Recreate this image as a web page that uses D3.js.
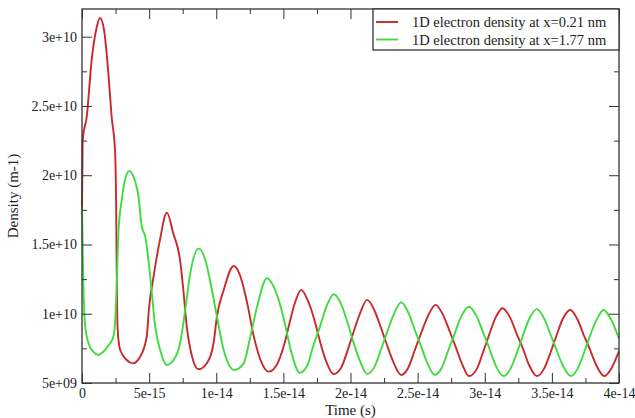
<!DOCTYPE html>
<html>
<head>
<meta charset="utf-8">
<script src="https://cdn.jsdelivr.net/npm/d3@7/dist/d3.min.js"></script>
<style>
  html, body { margin: 0; padding: 0; background: #fff; }
  svg { display: block; }
  text { font-family: "Liberation Serif", "DejaVu Serif", serif; fill: #222; }
</style>
</head>
<body>
<svg id="chart" width="635" height="418"></svg>
<script>
// Time in femtoseconds, density in units of 1e9 m^-1
const redTime = [0, 0.05, 0.35, 0.72, 1.10, 1.34, 1.64, 1.96, 2.21, 2.46, 2.54, 2.6, 2.66, 2.84, 3.33, 3.78, 4.33, 4.82, 5.0, 5.3, 5.8, 6.32, 6.8, 7.3, 7.55, 7.8, 8.2, 8.68, 9.3, 9.8, 10.05, 10.55, 11.3, 11.8, 12.3, 12.8, 13.4, 13.9,
  14.5, 15.1, 15.5, 15.9, 16.32, 16.8, 17.3, 17.7, 18.1, 18.76, 19.3, 19.8, 20.2, 20.7, 21.24, 21.8, 22.3, 22.7, 23.2, 23.78,
  24.3, 24.8, 25.3, 25.8, 26.34, 26.9, 27.4, 27.8, 28.3, 28.83, 29.4, 29.9, 30.3, 30.8, 31.32, 31.9, 32.4, 32.8, 33.3, 33.88,
  34.4, 34.9, 35.3, 35.8, 36.37, 36.9, 37.4, 37.8, 38.3, 38.9, 39.4, 40];
const redDensity = [17.7, 22.6, 24.2, 28.3, 30.7, 31.35, 30.5, 27.4, 24.2, 21.8, 18.2, 11.7, 8.8, 7.4, 6.66, 6.42, 6.9, 8.35, 10.5, 12.5, 15.3, 17.3, 15.8, 13.9, 11.7, 9.1, 6.9, 5.99, 6.42, 7.87, 9.8, 11.7, 13.45, 12.7, 10.8, 8.35, 6.42, 5.82,
  6.3, 7.9, 9.5, 10.9, 11.72, 11.0, 9.6, 8.1, 6.8, 5.65, 6.1, 7.4, 8.6, 10.0, 11.0, 10.2, 8.9, 7.8, 6.5, 5.58,
  6.1, 7.4, 8.7, 9.9, 10.64, 9.9, 8.7, 7.7, 6.4, 5.5, 6.0, 7.3, 8.4, 9.7, 10.4, 9.7, 8.5, 7.6, 6.3, 5.5,
  6.0, 7.2, 8.3, 9.6, 10.27, 9.6, 8.4, 7.5, 6.3, 5.5, 6.0, 7.3];

const greenTime = [0, 0.1, 0.22, 0.47, 0.84, 1.22, 1.59, 2.09, 2.34, 2.46, 2.59, 2.71, 2.96, 3.21, 3.53, 3.83, 4.2, 4.45, 4.7, 4.95, 5.2, 5.45, 5.82, 6.32, 6.82, 7.31, 7.69, 8.06, 8.68, 9.18, 9.68, 10.05, 10.55, 11.34, 12.04, 12.54, 13.04, 13.78,
  14.3, 14.8, 15.2, 15.6, 16.22, 16.8, 17.2, 17.7, 18.2, 18.76, 19.3, 19.8, 20.2, 20.7, 21.24, 21.8, 22.3, 22.7, 23.2, 23.78,
  24.3, 24.8, 25.2, 25.7, 26.27, 26.8, 27.3, 27.7, 28.2, 28.83, 29.4, 29.9, 30.3, 30.8, 31.39, 31.9, 32.4, 32.8, 33.3, 33.88,
  34.4, 34.9, 35.3, 35.8, 36.42, 36.9, 37.4, 37.8, 38.3, 38.86, 39.4, 40];
const greenDensity = [17.7, 12.2, 9.3, 7.9, 7.26, 7.02, 7.26, 7.87, 8.35, 9.3, 12.2, 15.8, 18.2, 19.7, 20.3, 19.9, 18.5, 16.3, 15.6, 13.9, 11.5, 9.1, 7.4, 6.3, 6.66, 7.87, 10.3, 12.9, 14.7, 13.9, 11.7, 9.8, 7.4, 5.94, 6.42, 8.35, 10.5, 12.56,
  11.9, 10.5, 8.9, 7.2, 5.74, 6.3, 7.6, 9.0, 10.5, 11.41, 10.7, 9.3, 8.0, 6.6, 5.65, 6.2, 7.5, 8.6, 9.9, 10.83,
  10.1, 8.8, 7.8, 6.5, 5.58, 6.1, 7.4, 8.4, 9.7, 10.51, 9.8, 8.6, 7.6, 6.3, 5.5, 6.0, 7.2, 8.3, 9.6, 10.33,
  9.7, 8.5, 7.5, 6.3, 5.5, 6.0, 7.2, 8.3, 9.5, 10.27, 9.6, 8.2];

const seriesNames = ["1D electron density at x=0.21 nm", "1D electron density at x=1.77 nm"];
const seriesColors = ["#c9282d", "#3fdc3f"];

const xTickValues = [0, 5e-15, 1e-14, 1.5e-14, 2e-14, 2.5e-14, 3e-14, 3.5e-14, 4e-14];
const xTickLabels = ["0", "5e-15", "1e-14", "1.5e-14", "2e-14", "2.5e-14", "3e-14", "3.5e-14", "4e-14"];
const xMinorValues = [2.5e-15, 7.5e-15, 1.25e-14, 1.75e-14, 2.25e-14, 2.75e-14, 3.25e-14, 3.75e-14];
const yTickValues = [5e9, 1e10, 1.5e10, 2e10, 2.5e10, 3e10];
const yTickLabels = ["5e+09", "1e+10", "1.5e+10", "2e+10", "2.5e+10", "3e+10"];
const yMinorValues = [7.5e9, 1.25e10, 1.75e10, 2.25e10, 2.75e10];

const W = 635, H = 418;
const margin = { left: 82, top: 9, right: 16, bottom: 35 };
const svg = d3.select("#chart");

const x = d3.scaleLinear().domain([0, 4e-14]).range([margin.left, W - margin.right]);
const y = d3.scaleLinear().domain([5e9, 3.2e10]).range([H - margin.bottom, margin.top]);

const series = [
  redTime.map((t, i) => ({ t: t * 1e-15, v: redDensity[i] * 1e9 })),
  greenTime.map((t, i) => ({ t: t * 1e-15, v: greenDensity[i] * 1e9 }))
];

// curves
const line = d3.line().x(d => x(d.t)).y(d => y(d.v)).curve(d3.curveMonotoneX);
const plot = svg.append("g");
series.forEach((s, i) => {
  plot.append("path")
    .datum(s)
    .attr("fill", "none")
    .attr("stroke", seriesColors[i])
    .attr("stroke-width", 1.9)
    .attr("stroke-linejoin", "round")
    .attr("d", line);
});

// axes with inward ticks on all four sides
const axisColor = "#333";
const tickFont = 14;
function styleAxis(g) {
  g.selectAll("path, line").attr("stroke", axisColor);
  g.select(".domain").remove();
  g.selectAll("text").attr("font-family", "Liberation Serif, serif").attr("font-size", tickFont).attr("fill", "#222");
}
const bottom = H - margin.bottom;
const right = W - margin.right;

svg.append("g").attr("transform", `translate(0,${bottom})`)
  .call(d3.axisBottom(x).tickValues(xTickValues).tickFormat((d, i) => xTickLabels[i]).tickSizeInner(-10).tickSizeOuter(0).tickPadding(5))
  .call(styleAxis);
svg.append("g").attr("transform", `translate(0,${bottom})`)
  .call(d3.axisBottom(x).tickValues(xMinorValues).tickFormat("").tickSizeInner(-5).tickSizeOuter(0))
  .call(styleAxis);
svg.append("g").attr("transform", `translate(0,${margin.top})`)
  .call(d3.axisTop(x).tickValues(xTickValues).tickFormat("").tickSizeInner(-10).tickSizeOuter(0))
  .call(styleAxis);
svg.append("g").attr("transform", `translate(0,${margin.top})`)
  .call(d3.axisTop(x).tickValues(xMinorValues).tickFormat("").tickSizeInner(-5).tickSizeOuter(0))
  .call(styleAxis);

svg.append("g").attr("transform", `translate(${margin.left},0)`)
  .call(d3.axisLeft(y).tickValues(yTickValues).tickFormat((d, i) => yTickLabels[i]).tickSizeInner(-10).tickSizeOuter(0).tickPadding(5))
  .call(styleAxis);
svg.append("g").attr("transform", `translate(${margin.left},0)`)
  .call(d3.axisLeft(y).tickValues(yMinorValues).tickFormat("").tickSizeInner(-5).tickSizeOuter(0))
  .call(styleAxis);
svg.append("g").attr("transform", `translate(${right},0)`)
  .call(d3.axisRight(y).tickValues(yTickValues).tickFormat("").tickSizeInner(-10).tickSizeOuter(0))
  .call(styleAxis);
svg.append("g").attr("transform", `translate(${right},0)`)
  .call(d3.axisRight(y).tickValues(yMinorValues).tickFormat("").tickSizeInner(-5).tickSizeOuter(0))
  .call(styleAxis);

// frame
svg.append("rect")
  .attr("x", margin.left).attr("y", margin.top)
  .attr("width", right - margin.left).attr("height", bottom - margin.top)
  .attr("fill", "none").attr("stroke", axisColor).attr("stroke-width", 1.3);

// axis titles
svg.append("text")
  .attr("x", (margin.left + right) / 2).attr("y", 415)
  .attr("text-anchor", "middle").attr("font-size", 15)
  .text("Time (s)");
svg.append("text")
  .attr("transform", `translate(18,${(margin.top + bottom) / 2}) rotate(-90)`)
  .attr("text-anchor", "middle").attr("font-size", 15)
  .text("Density (m-1)");

// legend
const lg = svg.append("g");
lg.append("rect")
  .attr("x", 373).attr("y", margin.top)
  .attr("width", right - 373).attr("height", 41)
  .attr("fill", "#fff").attr("stroke", axisColor).attr("stroke-width", 1.3);
seriesNames.forEach((name, i) => {
  const ly = 22 + i * 17.5;
  lg.append("line")
    .attr("x1", 376).attr("x2", 398).attr("y1", ly).attr("y2", ly)
    .attr("stroke", seriesColors[i]).attr("stroke-width", 1.9);
  lg.append("text")
    .attr("x", 412).attr("y", ly).attr("dy", "0.35em")
    .attr("font-size", 14.5)
    .text(name);
});
</script>
</body>
</html>
